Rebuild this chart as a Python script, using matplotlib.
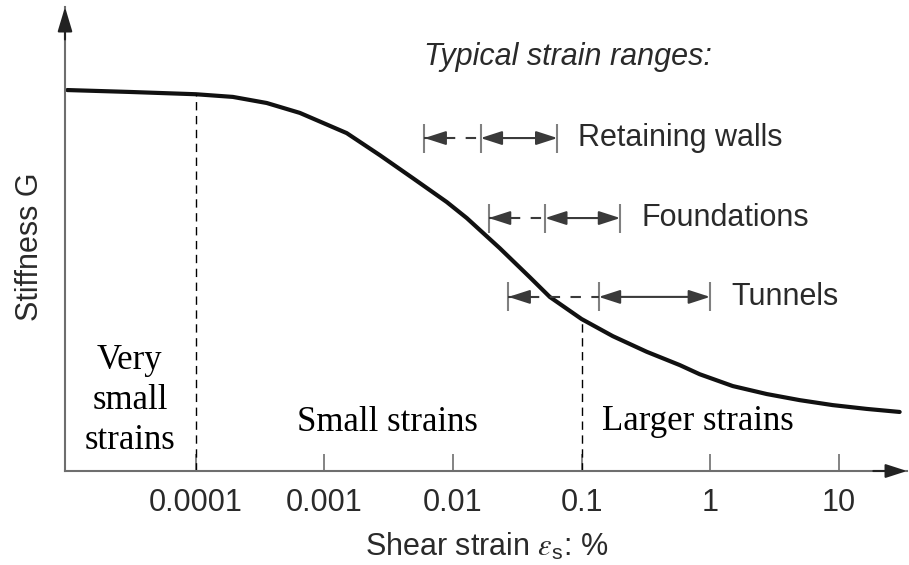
import numpy as np
import matplotlib
matplotlib.use("Agg")
import matplotlib.pyplot as plt
from matplotlib.ticker import NullLocator

plt.rcParams['font.family'] = 'Liberation Sans'
plt.rcParams['mathtext.fontset'] = 'stix'

# stiffness degradation curve (G normalised to the plateau)
strain = [1.0e-5, 3.07e-5, 1.0e-4, 1.94e-4, 3.56e-4, 6.44e-4, 1.49e-3, 2.70e-3,
          4.86e-3, 8.95e-3, 0.0128, 0.0231, 0.0395, 0.0566, 0.1, 0.175, 0.321,
          0.581, 0.83, 1.5, 2.76, 4.98, 8.97, 16.5, 29.8]
stiff = [1.000, 0.995, 0.989, 0.982, 0.966, 0.940, 0.887, 0.829, 0.769, 0.706,
         0.664, 0.585, 0.509, 0.457, 0.399, 0.354, 0.313, 0.278, 0.254, 0.223,
         0.202, 0.186, 0.173, 0.163, 0.155]

# typical strain ranges: lower, middle, upper
range_names = ['Retaining walls', 'Foundations', 'Tunnels']
range_lo = [0.006, 0.019, 0.027]
range_mid = [0.0164, 0.052, 0.136]
range_hi = [0.065, 0.2, 1.0]
range_level = [0.874, 0.664, 0.457]

tick_vals = [1e-4, 1e-3, 1e-2, 1e-1, 1, 10]
tick_labels = ['0.0001', '0.001', '0.01', '0.1', '1', '10']
boundaries = [1e-4, 0.1]

axcol = '#6e6e6e'
txtcol = '#2a2a2a'

fig = plt.figure(figsize=(9.09, 5.65), dpi=100)
ax = fig.add_axes([65/909, 94/565, 842/909, 464/565])
ax.set_xscale('log')
ax.set_xlim(9.6e-6, 34)
ax.set_ylim(0, 1.218)

ax.plot(strain, stiff, color='#111111', lw=3, solid_capstyle='round',
        solid_joinstyle='round')

for b in boundaries:
    ax.plot([b, b], [0, np.interp(np.log10(b), np.log10(strain), stiff)],
            color='black', lw=1, ls=(0, (6, 4)))

# range bars
hw = 0.038
rc = '#3a3a3a'
for name, lo, mid, hi, y in zip(range_names, range_lo, range_mid, range_hi, range_level):
    ax.vlines([lo, mid, hi], y - hw, y + hw, color='#808080', lw=1.5)
    ax.plot([lo, mid], [y, y], color=rc, lw=1.5, ls=(0, (5, 5)))
    ax.annotate('', xy=(lo, y), xytext=(lo * 1.35, y),
                arrowprops=dict(arrowstyle='-|>,head_length=1.3,head_width=0.42',
                                color=rc, lw=1.5, shrinkA=0, shrinkB=0))
    ax.annotate('', xy=(hi, y), xytext=(mid, y),
                arrowprops=dict(arrowstyle='<|-|>,head_length=1.3,head_width=0.42',
                                color=rc, lw=1.5, shrinkA=0, shrinkB=0))
    ax.annotate(name, xy=(hi, y), xytext=(15, 0), textcoords='offset points',
                ha='left', va='center', fontsize=22, color=txtcol)

ax.text(range_lo[0], 1.087, 'Typical strain ranges:', fontsize=22, style='italic',
        color=txtcol, ha='left', va='center')

serif = dict(family='Liberation Serif', fontsize=25, color='black')
ax.text(3.07e-5, 0.185, 'Very\nsmall\nstrains', ha='center', va='center',
        linespacing=1.28, **serif)
ax.text(3.08e-3, 0.105, 'Small strains', ha='center', va='baseline', **serif)
ax.text(0.80, 0.108, 'Larger strains', ha='center', va='baseline', **serif)

# axes with arrows
for s in ['top', 'right']:
    ax.spines[s].set_visible(False)
for s in ['left', 'bottom']:
    ax.spines[s].set_color(axcol)
    ax.spines[s].set_linewidth(1.5)
ax.annotate('', xy=(0, 1), xytext=(0, 0.93), xycoords='axes fraction',
            arrowprops=dict(arrowstyle='-|>,head_length=1.5,head_width=0.45',
                            color='#222222', lw=1.5, shrinkA=0, shrinkB=0))
ax.annotate('', xy=(1, 0), xytext=(0.96, 0), xycoords='axes fraction',
            arrowprops=dict(arrowstyle='-|>,head_length=1.3,head_width=0.42',
                            color='#222222', lw=1.5, shrinkA=0, shrinkB=0))

ax.set_xticks(tick_vals)
ax.set_xticklabels(tick_labels)
ax.xaxis.set_minor_locator(NullLocator())
ax.tick_params(axis='x', direction='in', length=12, width=1.2, color=axcol,
               labelsize=22, labelcolor=txtcol, pad=12)
ax.set_yticks([])

ax.set_xlabel(r'Shear strain $\varepsilon_{\mathregular{s}}$: %', fontsize=22,
              color=txtcol, va='center')
ax.xaxis.set_label_coords(0.501, -0.165)
ax.set_ylabel('Stiffness G', fontsize=22, color=txtcol, va='center')
ax.yaxis.set_label_coords(-0.0415, 0.483)

fig.savefig('out.png', dpi=100)
